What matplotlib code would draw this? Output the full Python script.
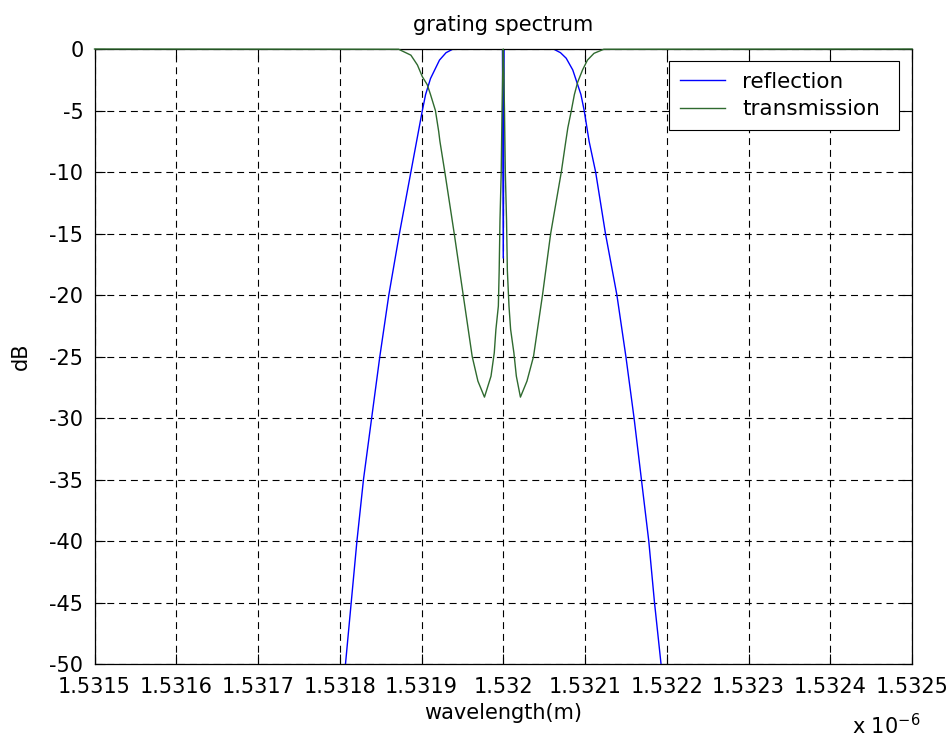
import matplotlib
matplotlib.use('Agg')
import matplotlib.pyplot as plt

plt.rcParams['font.family'] = ['DejaVu Sans']
plt.rcParams['axes.unicode_minus'] = False
plt.rcParams['lines.scale_dashes'] = False

# wavelength in units of 1e-6 m, level in dB
refl_wl = [1.531801, 1.531807, 1.531814, 1.531821, 1.531829, 1.531839, 1.531849,
           1.531860, 1.531873, 1.531887, 1.531894, 1.531901, 1.531905, 1.531911,
           1.531922, 1.531930, 1.531938, 1.531999, 1.532000, 1.532001,
           1.532062, 1.532070, 1.532077, 1.532085, 1.532090, 1.532095, 1.532099,
           1.532105, 1.532113, 1.532125, 1.532139, 1.532150, 1.532160, 1.532169,
           1.532178, 1.532185, 1.532193, 1.532199]
refl_db = [-55, -50, -45, -40, -35, -30, -25,
           -20, -15, -10, -7.5, -5, -3.7, -2.4,
           -0.9, -0.3, -0.02, -0.02, -17, -0.02,
           -0.02, -0.3, -0.75, -1.7, -2.7, -3.7, -5,
           -7.5, -10, -15, -20, -25, -30, -35,
           -40, -45, -50, -55]

trans_wl = [1.5315, 1.531872, 1.531887, 1.531895, 1.531901, 1.531907, 1.531911,
            1.531917, 1.531921, 1.5319225, 1.5319285, 1.531940, 1.531951, 1.531962,
            1.531969, 1.531977, 1.531985, 1.531989, 1.531991, 1.531994, 1.531995,
            1.531996, 1.5319975, 1.5319985, 1.5319993, 1.532000,
            1.5320007, 1.5320015, 1.5320025, 1.532004, 1.532005, 1.532007,
            1.532009, 1.532013, 1.532016, 1.532021, 1.532029, 1.532037,
            1.532048, 1.532058, 1.532071, 1.5320765, 1.532079, 1.532083,
            1.532087, 1.532091, 1.532097, 1.532103, 1.532111, 1.532123, 1.5325]
trans_db = [0, -0.02, -0.5, -1.3, -2.25, -2.9, -3.7,
            -5, -6.7, -7.5, -10, -15, -20, -25,
            -27.0, -28.3, -26.6, -24.7, -22.8, -20.9, -18,
            -13.9, -10, -5, -2, 0,
            -2, -5, -10, -13.9, -18, -20.9,
            -22.8, -24.7, -26.6, -28.3, -27.0, -25,
            -20, -15, -10, -7.5, -6.4, -5.1,
            -3.7, -2.7, -1.7, -0.9, -0.35, -0.02, 0]

xticks = [1.5315, 1.5316, 1.5317, 1.5318, 1.5319, 1.532,
          1.5321, 1.5322, 1.5323, 1.5324, 1.5325]
xticklabels = ['1.5315', '1.5316', '1.5317', '1.5318', '1.5319', '1.532',
               '1.5321', '1.5322', '1.5323', '1.5324', '1.5325']
yticks = [0, -5, -10, -15, -20, -25, -30, -35, -40, -45, -50]

fig = plt.figure(figsize=(9.5, 7.37), dpi=100)
ax = fig.add_axes([0.0995, 0.099, 0.8605, 0.8345])

ax.plot(refl_wl, refl_db, color='#0000ff', lw=1.0, label='reflection')
ax.plot(trans_wl, trans_db, color='#2f6a2f', lw=1.0, label='transmission',
        zorder=3, clip_on=False)

ax.set_xlim(1.5315, 1.5325)
ax.set_ylim(-50, 0)
ax.set_xticks(xticks)
ax.set_xticklabels(xticklabels)
ax.set_yticks(yticks)
ax.set_yticklabels([str(v) for v in yticks])
ax.tick_params(direction='in', length=7, width=0.8, top=True, right=True,
               labelsize=15, pad=8)
ax.tick_params(axis='x', pad=9)
ax.grid(True, color='black', linestyle=(0, (5, 3.5)), linewidth=0.8)
for s in ax.spines.values():
    s.set_linewidth(0.9)

ax.set_title('grating spectrum', fontsize=15, pad=13)
ax.set_xlabel('wavelength(m)', fontsize=15)
ax.xaxis.set_label_coords(0.5, -0.064)
ax.set_ylabel('dB', fontsize=15)
ax.yaxis.set_label_coords(-0.078, 0.5)

fig.text(0.8965, 0.004, r'x 10$^{\mathregular{-6}}$', fontsize=15)

leg = ax.legend(loc='upper left', bbox_to_anchor=(0.7028, 0.9805, 0.2813, 0),
                mode='expand', borderaxespad=0, fontsize=15.5, fancybox=False,
                framealpha=1, edgecolor='black', borderpad=0.5,
                handlelength=2.1, handletextpad=0.8, labelspacing=0.35)
leg.get_frame().set_linewidth(0.8)

fig.savefig('out.png', dpi=100)
